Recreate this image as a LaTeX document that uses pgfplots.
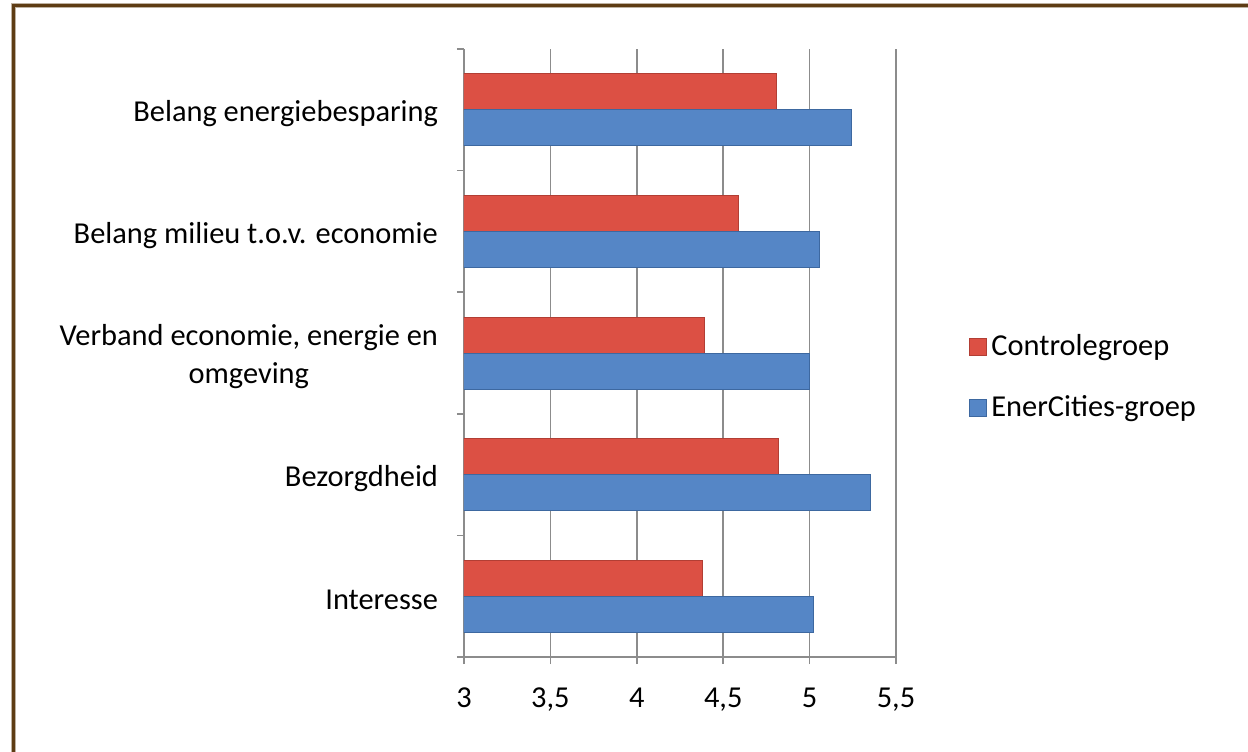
\documentclass[border=0pt]{standalone}
\usepackage{fontspec}
\setmainfont{Carlito}
\usepackage{pgfplots}
\pgfplotsset{compat=1.18}
\definecolor{brd}{HTML}{5E3C14}
\definecolor{gridgray}{HTML}{8C8C8C}
\definecolor{redfill}{HTML}{DC5044}
\definecolor{redline}{HTML}{B23E34}
\definecolor{bluefill}{HTML}{5586C6}
\definecolor{blueline}{HTML}{3D68A0}
\begin{document}
\begin{tikzpicture}
\path[use as bounding box] (0,0) rectangle (624pt,375.5pt);
\draw[brd!40, line width=2.5pt] (6.5pt,-2pt) -- (6.5pt,372.75pt) -- (630pt,372.75pt);
\draw[brd, line width=1.5pt] (6.5pt,-2pt) -- (6.5pt,372.75pt) -- (630pt,372.75pt);
\begin{axis}[
  at={(232pt,47pt)}, anchor=south west,
  scale only axis, width=216pt, height=304pt,
  xmin=3, xmax=5.5, ymin=-0.5, ymax=4.5,
  xtick={3,3.5,...,5.5},
  ytick={-0.5,0.5,...,4.5},
  y tick label as interval,
  yticklabels={Interesse,Bezorgdheid,{Verband economie, energie en\\omgeving},{Belang milieu t.o.v. economie},Belang energiebesparing},
  axis x line*=bottom, axis y line*=left,
  axis line style={gridgray, line width=0.75pt, -},
  tick style={gridgray, line width=0.75pt},
  tick align=outside, major tick length=3.5pt,
  xmajorgrids, grid style={gridgray, line width=0.75pt},
  /pgf/number format/use comma,
  /pgf/number format/assume math mode=true,
  tick label style={font=\fontsize{15.2}{19}\selectfont, text=black},
  yticklabel style={align=center, xshift=-6pt, yshift=-2pt},
  xticklabel style={yshift=-8.5pt},
  xbar, bar width=18pt,
  legend style={draw=none, at={(1.169,0.46)}, anchor=west, font=\fontsize{15.2}{18}\selectfont, row sep=14.5pt, inner sep=0pt},
  legend cell align=left,
  legend image code/.code={\draw[#1] (0pt,-4.25pt) rectangle (8.5pt,4.25pt);},
]
\addplot[bar shift=9pt, draw=redline, fill=redfill, line width=0.5pt]
  coordinates {(4.38,0) (4.82,1) (4.39,2) (4.59,3) (4.81,4)};
\addlegendentry{Controlegroep}
\addplot[bar shift=-9pt, draw=blueline, fill=bluefill, line width=0.5pt]
  coordinates {(5.02,0) (5.35,1) (5.00,2) (5.06,3) (5.24,4)};
\addlegendentry{EnerCities-groep}
\end{axis}
\end{tikzpicture}
\end{document}
